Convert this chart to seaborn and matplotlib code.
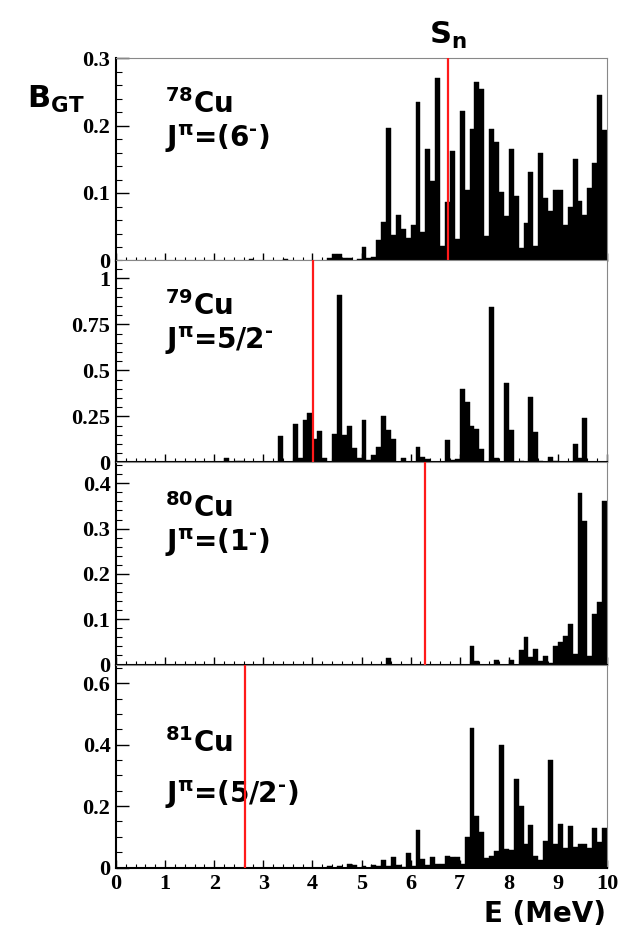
import numpy as np
import pandas as pd
import matplotlib
matplotlib.use("Agg")
import matplotlib.pyplot as plt
import seaborn as sns
from matplotlib.ticker import MultipleLocator, FuncFormatter

# bin centres (MeV) and B_GT per 0.1 MeV bin
e78 = [2.75, 3.45, 4.35, 4.45, 4.55, 4.65, 4.75, 4.95, 5.05, 5.15, 5.25, 5.35, 5.45, 5.55,
       5.65, 5.75, 5.85, 5.95, 6.05, 6.15, 6.25, 6.35, 6.45, 6.55, 6.65, 6.75, 6.85, 6.95,
       7.05, 7.15, 7.25, 7.35, 7.45, 7.55, 7.65, 7.75, 7.85, 7.95, 8.05, 8.15, 8.25, 8.35,
       8.45, 8.55, 8.65, 8.75, 8.85, 8.95, 9.05, 9.15, 9.25, 9.35, 9.45, 9.55, 9.65, 9.75,
       9.85, 9.95]
b78 = [0.002, 0.002, 0.004, 0.01, 0.01, 0.003, 0.003, 0.002, 0.02, 0.003, 0.005, 0.031, 0.057,
       0.197, 0.038, 0.067, 0.047, 0.033, 0.052, 0.235, 0.042, 0.165, 0.118, 0.271, 0.022,
       0.087, 0.162, 0.032, 0.222, 0.105, 0.195, 0.265, 0.254, 0.036, 0.195, 0.175, 0.101,
       0.066, 0.165, 0.095, 0.019, 0.056, 0.131, 0.022, 0.159, 0.092, 0.074, 0.105, 0.104,
       0.052, 0.080, 0.150, 0.088, 0.068, 0.107, 0.144, 0.245, 0.194]

e79 = [2.25, 2.45, 2.55, 3.35, 3.65, 3.75, 3.85, 3.95, 4.05, 4.15, 4.25, 4.35, 4.45, 4.55,
       4.65, 4.75, 4.85, 4.95, 5.05, 5.15, 5.25, 5.35, 5.45, 5.55, 5.65, 5.75, 5.85, 5.95,
       6.15, 6.25, 6.35, 6.45, 6.55, 6.75, 6.85, 6.95, 7.05, 7.15, 7.25, 7.35, 7.45, 7.55,
       7.65, 7.75, 7.85, 7.95, 8.05, 8.25, 8.45, 8.55, 8.65, 8.75, 8.85, 8.95, 9.15, 9.35,
       9.45, 9.55, 9.85]
b79 = [0.026, 0.01, 0.01, 0.146, 0.21, 0.024, 0.232, 0.27, 0.128, 0.17, 0.027, 0.005, 0.155,
       0.91, 0.15, 0.198, 0.08, 0.022, 0.232, 0.016, 0.04, 0.086, 0.25, 0.177, 0.13, 0.005,
       0.024, 0.005, 0.082, 0.03, 0.02, 0.005, 0.005, 0.12, 0.015, 0.02, 0.40, 0.33, 0.20,
       0.18, 0.071, 0.005, 0.845, 0.025, 0.005, 0.43, 0.177, 0.01, 0.356, 0.165, 0.01, 0.005,
       0.03, 0.01, 0.005, 0.1, 0.024, 0.24, 0.005]

e80 = [5.55, 7.25, 7.35, 7.75, 8.05, 8.25, 8.35, 8.45, 8.55, 8.65, 8.75, 8.85, 8.95, 9.05,
       9.15, 9.25, 9.35, 9.45, 9.55, 9.65, 9.75, 9.85, 9.95]
b80 = [0.014, 0.041, 0.007, 0.009, 0.011, 0.032, 0.06, 0.017, 0.035, 0.007, 0.018, 0.003,
       0.041, 0.049, 0.064, 0.089, 0.024, 0.378, 0.316, 0.018, 0.111, 0.138, 0.362]

e81 = [4.35, 4.55, 4.75, 4.85, 5.05, 5.25, 5.35, 5.45, 5.55, 5.65, 5.75, 5.85, 5.95, 6.05,
       6.15, 6.25, 6.35, 6.45, 6.55, 6.65, 6.75, 6.85, 6.95, 7.05, 7.15, 7.25, 7.35, 7.45,
       7.55, 7.65, 7.75, 7.85, 7.95, 8.05, 8.15, 8.25, 8.35, 8.45, 8.55, 8.65, 8.75, 8.85,
       8.95, 9.05, 9.15, 9.25, 9.35, 9.45, 9.55, 9.65, 9.75, 9.85, 9.95]
b81 = [0.005, 0.005, 0.011, 0.008, 0.005, 0.009, 0.004, 0.025, 0.004, 0.035, 0.008, 0.003,
       0.046, 0.006, 0.123, 0.029, 0.009, 0.033, 0.013, 0.011, 0.036, 0.034, 0.033, 0.013,
       0.1, 0.454, 0.167, 0.116, 0.03, 0.038, 0.053, 0.398, 0.06, 0.058, 0.288, 0.2, 0.076,
       0.138, 0.038, 0.025, 0.087, 0.351, 0.076, 0.142, 0.065, 0.134, 0.068, 0.076, 0.076,
       0.062, 0.13, 0.084, 0.13]

nuclei = ["78", "79", "80", "81"]
spins = ["(6$^{\u2010}$)", "5/2$^{\u2010}$", "(1$^{\u2010}$)", "(5/2$^{\u2010}$)"]
s_n = [6.77, 4.02, 6.29, 2.62]
y_max = [0.3, 1.1, 0.447, 0.66]
y_major = [0.1, 0.25, 0.1, 0.2]
y_minor = [0.02, 0.05, 0.02, 0.05]
energies = [e78, e79, e80, e81]
strengths = [b78, b79, b80, b81]

sns.set_style("ticks")
plt.rcParams['font.family'] = ['DejaVu Sans']
plt.rcParams['mathtext.default'] = 'regular'
for key in ['text.color', 'axes.labelcolor', 'xtick.color', 'ytick.color']:
    plt.rcParams[key] = 'black'

fig = plt.figure(figsize=(6.21, 9.33), dpi=100)
left, right = 116 / 621, 607 / 621
tops = [58, 260, 462, 665]
h = 202.5
tick_font = dict(family='Liberation Serif', weight='bold', size=16)

for i in range(4):
    y0 = 1 - (tops[i] + h) / 933
    ax = fig.add_axes([left, y0, right - left, h / 933])
    df = pd.DataFrame({"E": energies[i], "B": strengths[i]})
    sns.histplot(data=df, x="E", weights="B", binwidth=0.1, binrange=(0, 10), ax=ax,
                 color="black", edgecolor="black", linewidth=0.3, alpha=1)
    ax.axvline(s_n[i], color="#ff1a1a", lw=1.6, zorder=5)
    ax.set_xlim(0, 10)
    ax.set_ylim(0, y_max[i])
    ax.set_xlabel("")
    ax.set_ylabel("")
    ax.xaxis.set_major_locator(MultipleLocator(1))
    ax.xaxis.set_minor_locator(MultipleLocator(0.2))
    ax.yaxis.set_major_locator(MultipleLocator(y_major[i]))
    ax.yaxis.set_minor_locator(MultipleLocator(y_minor[i]))
    ax.yaxis.set_major_formatter(FuncFormatter(lambda v, p: "%g" % round(v, 3)))
    ax.tick_params(axis='x', which='major', direction='in', length=5.5, width=1, pad=5)
    ax.tick_params(axis='x', which='minor', direction='in', length=3, width=0.8)
    ax.tick_params(axis='y', which='major', direction='in', length=9, width=1, pad=4)
    ax.tick_params(axis='y', which='minor', direction='in', length=4.5, width=0.8)
    for sp in ['top', 'right']:
        ax.spines[sp].set_color('#888888')
        ax.spines[sp].set_linewidth(0.8)
    for sp in ['left', 'bottom']:
        ax.spines[sp].set_color('black')
        ax.spines[sp].set_linewidth(1.5)
    for lab in ax.get_yticklabels():
        lab.set_fontproperties(tick_font)
    if i < 3:
        ax.set_xticklabels([])
    else:
        for lab in ax.get_xticklabels():
            lab.set_fontproperties(tick_font)
    # nucleus and spin labels
    ax.text(0.1, 0.73 if i < 3 else 0.57, "$^{%s}$Cu" % nuclei[i], transform=ax.transAxes,
            fontsize=20, fontweight='bold', va='baseline')
    ax.text(0.1, 0.56 if i < 3 else 0.32, "J$^{\\pi}$=" + spins[i], transform=ax.transAxes,
            fontsize=20, fontweight='bold', va='baseline')

fig.text(27 / 621, 1 - 108 / 933, "B$_{GT}$", fontsize=22, fontweight='bold', va='baseline')
fig.text(448 / 621, 1 - 44 / 933, "S$_{n}$", fontsize=22, fontweight='bold', va='baseline',
         ha='center')
fig.text(606 / 621, 1 - 922 / 933, "E (MeV)", fontsize=20, fontweight='bold', va='baseline',
         ha='right')

fig.savefig("out.png", dpi=100)
